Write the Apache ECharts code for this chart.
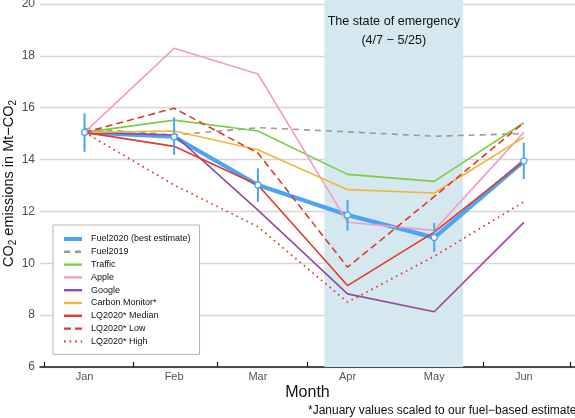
<!DOCTYPE html>
<html>
<head>
<meta charset="utf-8">
<script src="https://cdn.jsdelivr.net/npm/echarts@6/dist/echarts.min.js"></script>
<style>
  html, body { margin: 0; padding: 0; background: #fff; }
  #main { width: 575px; height: 418px; }
</style>
</head>
<body>
<div id="main"></div>
<script>
// days since 1 Jan 2020 (mid-month points)
var days = [14, 45, 74, 105, 135, 166];
var monthNames = ['Jan', 'Feb', 'Mar', 'Apr', 'May', 'Jun'];
var monthStarts = [0, 31, 60, 91, 121, 152, 182];
var emergency = [97, 145]; // 4/7 - 5/25

var fuel2020   = [15.05, 14.88, 13.02, 11.86, 10.99, 13.94];
var fuel2020Lo = [14.30, 14.18, 12.37, 11.26, 10.44, 13.25];
var fuel2020Hi = [15.78, 15.63, 13.66, 12.44, 11.56, 14.65];
var fuel2019   = [15.20, 14.95, 15.23, 15.07, 14.90, 15.00];
var traffic    = [15.05, 15.52, 15.10, 13.43, 13.16, 15.42];
var apple      = [15.05, 18.29, 17.30, 11.58, 11.27, 15.05];
var google     = [15.05, 14.95, 12.05, 8.82, 8.13, 11.58];
var carbon     = [15.05, 15.10, 14.38, 12.84, 12.71, 14.86];
var lqMedian   = [15.05, 14.51, 13.02, 9.14, 11.20, 13.94];
var lqLow      = [15.05, 15.98, 14.25, 9.85, 12.57, 15.42];
var lqHigh     = [15.05, 13.02, 11.41, 8.50, 10.27, 12.37];

var FONT = '"Liberation Sans", Arial, Helvetica, sans-serif';
var BLUE = '#4aa5f2';
var RED = '#e3392a';

function pts(vals) {
    return days.map(function (d, i) { return [d, vals[i]]; });
}

function lineSeries(name, vals, color, width, type, z) {
    return {
        name: name,
        type: 'line',
        data: pts(vals),
        symbol: 'none',
        z: z || 2,
        lineStyle: { color: color, width: width, type: type || 'solid' },
        itemStyle: { color: color }
    };
}

var myChart = echarts.init(document.getElementById('main'));

var series = [
    lineSeries('Fuel2020 (best estimate)', fuel2020, BLUE, 4.2, 'solid', 2),
    lineSeries('Fuel2019', fuel2019, '#9a9a9a', 1.6, [6, 5], 3),
    lineSeries('Traffic', traffic, '#7ccc47', 1.6, 'solid', 3),
    lineSeries('Apple', apple, '#f39bc9', 1.6, 'solid', 3),
    lineSeries('Google', google, '#934a9b', 1.6, 'solid', 3),
    lineSeries('Carbon Monitor*', carbon, '#f2b63b', 1.6, 'solid', 3),
    lineSeries('LQ2020* Median', lqMedian, RED, 1.6, 'solid', 3),
    lineSeries('LQ2020* Low', lqLow, RED, 1.6, [7, 4], 3),
    lineSeries('LQ2020* High', lqHigh, RED, 1.8, [1.6, 4], 3),
    {
        name: 'errorbars',
        type: 'custom',
        z: 4,
        data: days.map(function (d, i) { return [d, fuel2020Lo[i], fuel2020Hi[i]]; }),
        encode: { x: 0, y: [1, 2] },
        renderItem: function (params, api) {
            var a = api.coord([api.value(0), api.value(1)]);
            var b = api.coord([api.value(0), api.value(2)]);
            return {
                type: 'line',
                shape: { x1: a[0], y1: a[1], x2: b[0], y2: b[1] },
                style: { stroke: BLUE, lineWidth: 2 }
            };
        }
    },
    {
        name: 'markers',
        type: 'scatter',
        z: 5,
        data: pts(fuel2020),
        symbol: 'circle',
        symbolSize: 6,
        itemStyle: { color: '#fff', borderColor: BLUE, borderWidth: 1.3, opacity: 1 }
    },
    {
        name: 'emergency',
        type: 'line',
        data: [],
        z: 0,
        markArea: {
            silent: true,
            itemStyle: { color: '#d5e8f0' },
            label: {
                show: true,
                position: 'insideTop',
                distance: 12,
                fontFamily: FONT,
                fontSize: 12.6,
                lineHeight: 19,
                color: '#111',
                align: 'center'
            },
            data: [[
                { name: 'The state of emergency\n(4/7 \u2212 5/25)', xAxis: emergency[0] },
                { xAxis: emergency[1] }
            ]]
        }
    }
];

var option = {
    animation: false,
    backgroundColor: '#fff',
    textStyle: { fontFamily: FONT },
    grid: { left: 40, right: 0, top: 0, bottom: 51, containLabel: false, outerBoundsMode: 'none' },
    legend: {
        data: [
            { name: 'Fuel2020 (best estimate)', lineStyle: { width: 4 } },
            'Fuel2019', 'Traffic', 'Apple', 'Google',
            'Carbon Monitor*', 'LQ2020* Median', 'LQ2020* Low', 'LQ2020* High'
        ],
        orient: 'vertical',
        left: 53,
        top: 225,
        padding: [9, 9, 8, 9],
        itemWidth: 18,
        itemHeight: 10,
        itemGap: 2.8,
        backgroundColor: '#fff',
        borderColor: '#b3b3b3',
        borderWidth: 1,
        borderRadius: 0,
        lineStyle: { width: 2.4 },
        // hide the round symbol drawn in the middle of each line icon
        itemStyle: { opacity: 0, borderWidth: 0 },
        textStyle: { fontFamily: FONT, fontSize: 9, color: '#111', lineHeight: 10, padding: [0, 0, 0, 4] }
    },
    xAxis: {
        type: 'value',
        min: -1.4,
        max: 183.7,
        name: 'Month',
        nameLocation: 'middle',
        nameGap: 18,
        nameMoveOverlap: false,
        nameTextStyle: { fontFamily: FONT, fontSize: 16, color: '#111' },
        axisLine: { show: true, lineStyle: { color: '#1a1a1a', width: 1.6 } },
        axisTick: {
            show: true,
            inside: true,
            length: 5,
            customValues: monthStarts,
            lineStyle: { color: '#1a1a1a', width: 1.2 }
        },
        axisLabel: {
            customValues: days,
            margin: 4,
            fontFamily: FONT,
            fontSize: 11,
            color: '#555',
            formatter: function (v) {
                var i = days.indexOf(Math.round(v));
                return i >= 0 ? monthNames[i] : '';
            }
        },
        splitLine: { show: false }
    },
    yAxis: {
        type: 'value',
        min: 6,
        max: 20.154,
        interval: 2,
        name: 'CO{sub|2} emissions in Mt\u2212CO{sub|2}',
        nameLocation: 'middle',
        nameGap: 22,
        nameMoveOverlap: false,
        nameTextStyle: {
            fontFamily: FONT,
            fontSize: 14.5,
            color: '#111',
            lineHeight: 18,
            rich: {
                sub: { fontFamily: FONT, fontSize: 10, color: '#111', padding: [8, 0, 0, 0], lineHeight: 18 }
            }
        },
        axisLine: { show: false },
        axisTick: { show: false },
        axisLabel: {
            margin: 5,
            fontFamily: FONT,
            fontSize: 12,
            color: '#4d4d4d',
            showMaxLabel: false
        },
        splitLine: { show: true, showMaxLine: false, lineStyle: { color: '#d6d6d6', width: 1.3 } }
    },
    graphic: [{
        type: 'text',
        left: 308,
        top: 405,
        style: {
            text: '*January values scaled to our fuel\u2212based estimate',
            fontFamily: FONT,
            fontSize: 12,
            fill: '#111'
        }
    }],
    series: series
};

myChart.setOption(option);
</script>
</body>
</html>
